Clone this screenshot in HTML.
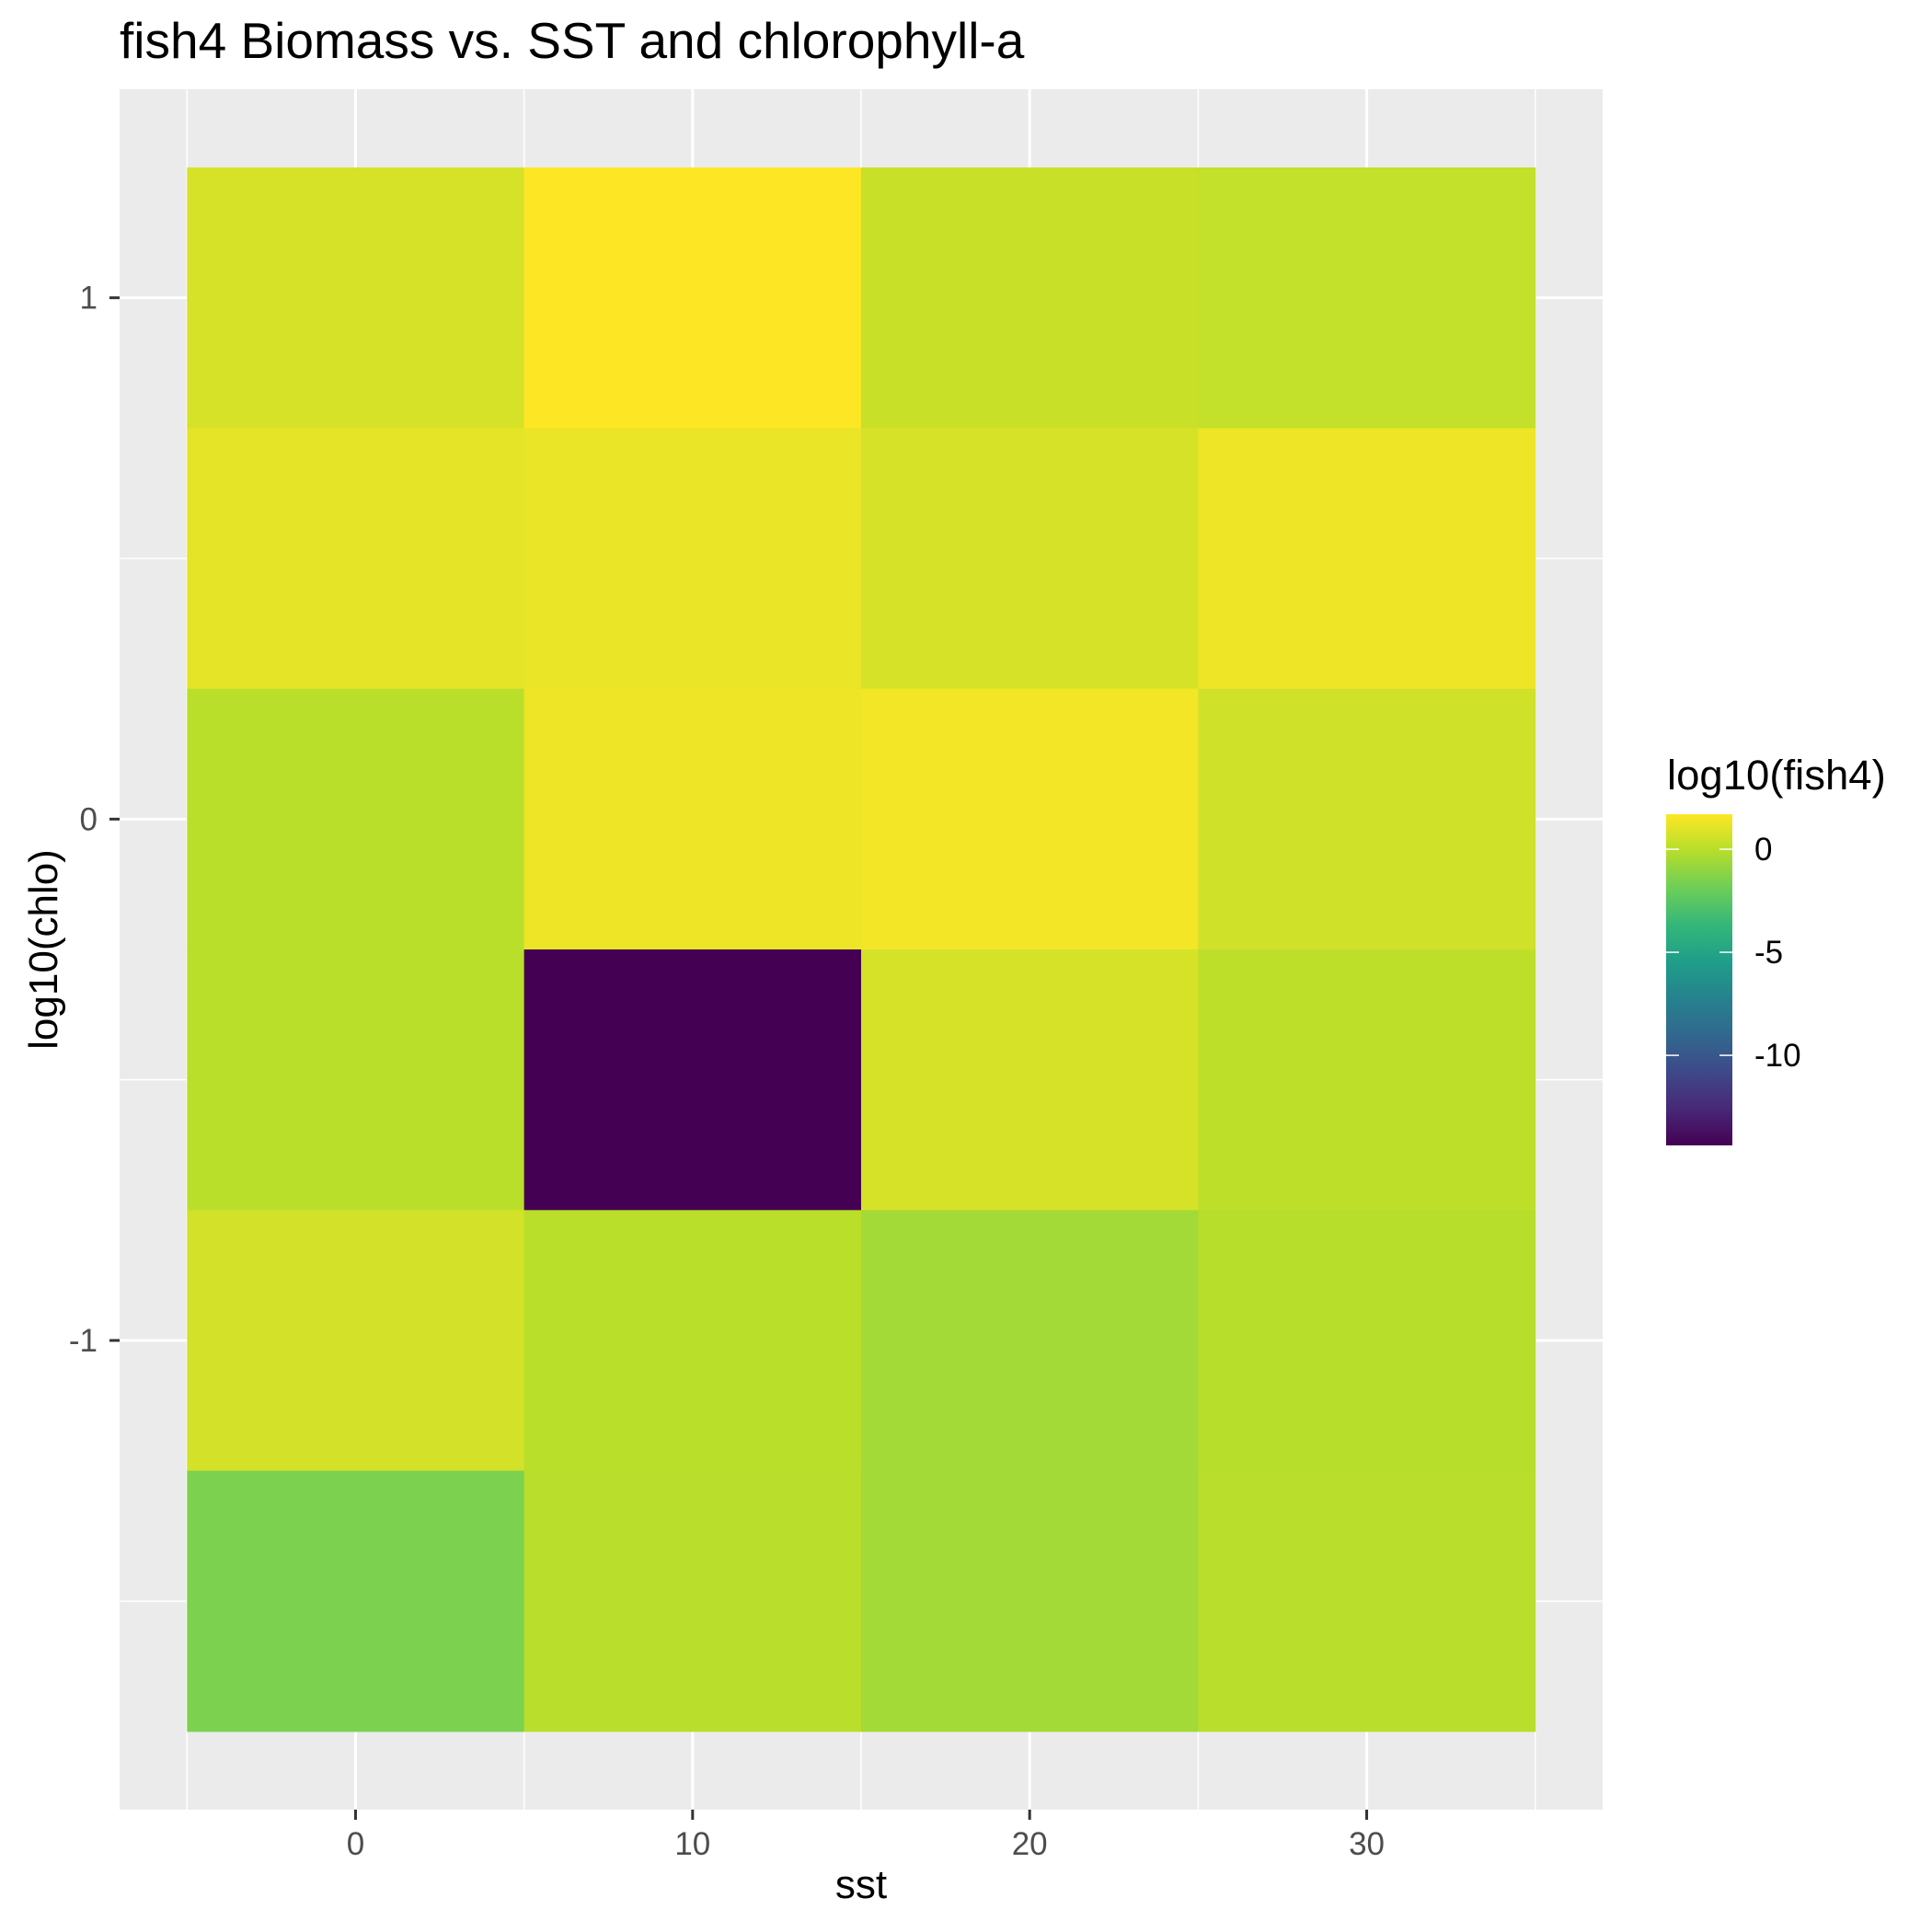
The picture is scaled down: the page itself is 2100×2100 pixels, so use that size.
<!DOCTYPE html>
<html><head><meta charset="utf-8"><style>
html,body{margin:0;padding:0;background:#fff;}
svg{display:block;font-family:"Liberation Sans",Arial,sans-serif;}
</style></head><body>
<svg id="chart" width="2100" height="2100" viewBox="0 0 2100 2100" xmlns="http://www.w3.org/2000/svg">
<defs><linearGradient id="vgrad" x1="0" y1="1" x2="0" y2="0"></linearGradient></defs>
<text x="130" y="63" font-size="55" fill="#000">fish4 Biomass vs. SST and chlorophyll-a</text>
<rect x="130" y="97" width="1612" height="1870" fill="#ebebeb"/>
<g id="grid"></g>
<g id="tiles"></g>
<g id="axes"></g>
<text x="936" y="2063" font-size="44" text-anchor="middle" fill="#000">sst</text>
<text transform="translate(62,1032) rotate(-90)" font-size="44" text-anchor="middle" fill="#000">log10(chlo)</text>
<g id="legend">
<text x="1812" y="858" font-size="45.5" fill="#000">log10(fish4)</text>
</g>
</svg>
<script>
const sstValues = [0, 10, 20, 30];
const chloValues = [1.0, 0.5, 0.0, -0.5, -1.0, -1.5];
// fish values per chlo row (top to bottom), columns sst 0,10,20,30
const fishRow1 = [0.74, 1.70, 0.41, 0.25];
const fishRow2 = [1.10, 1.22, 0.74, 1.30];
const fishRow3 = [0.02, 1.30, 1.46, 0.58];
const fishRow4 = [0.02, -14.37, 0.74, 0.12];
const fishRow5 = [0.66, 0.05, -0.55, -0.07];
const fishRow6 = [-1.51, 0.01, -0.55, 0.01];
const xTicks = [0, 10, 20, 30];
const yTicks = [-1, 0, 1];
const legendTicks = [0, -5, -10];
const fishMin = -14.37, fishMax = 1.70;

const NS = "http://www.w3.org/2000/svg";
const X0 = 130, X1 = 1742, XMIN = -7, XMAX = 37;
const Y0 = 97, Y1 = 1967, YMIN = -1.9, YMAX = 1.4;
const sx = v => X0 + (v - XMIN) / (XMAX - XMIN) * (X1 - X0);
const sy = v => Y1 - (v - YMIN) / (YMAX - YMIN) * (Y1 - Y0);
const vir = ["#440154","#482878","#3e4989","#31688e","#26828e","#1f9e89","#35b779","#6ece58","#b5de2b","#fde725"];
function hex(h){return [1,3,5].map(i=>parseInt(h.substr(i,2),16));}
function viridis(t){
  t=Math.max(0,Math.min(1,t));const p=t*(vir.length-1);const i=Math.min(Math.floor(p),vir.length-2);const f=p-i;
  const a=hex(vir[i]),b=hex(vir[i+1]);
  return "rgb("+a.map((c,k)=>Math.round(c+(b[k]-c)*f)).join(",")+")";
}
function mk(tag, attrs, parent){const e=document.createElementNS(NS,tag);for(const k in attrs)e.setAttribute(k,attrs[k]);parent.appendChild(e);return e;}

const grid=document.getElementById("grid");
[-5,5,15,25,35].forEach(v=>{const l=mk("line",{x1:sx(v),x2:sx(v),y1:Y0,y2:Y1,stroke:"#fff","stroke-width":1.5},grid);

});
[-1.5,-0.5,0.5].forEach(v=>{const l=mk("line",{x1:X0,x2:X1,y1:sy(v),y2:sy(v),stroke:"#fff","stroke-width":1.5},grid);

});
xTicks.forEach(v=>{const l=mk("line",{x1:sx(v),x2:sx(v),y1:Y0,y2:Y1,stroke:"#fff","stroke-width":3},grid);

});
yTicks.forEach(v=>{const l=mk("line",{x1:X0,x2:X1,y1:sy(v),y2:sy(v),stroke:"#fff","stroke-width":3},grid);

});

const rows=[fishRow1,fishRow2,fishRow3,fishRow4,fishRow5,fishRow6];
const tiles=document.getElementById("tiles");
rows.forEach((row,ri)=>{row.forEach((val,ci)=>{
  const cx=sstValues[ci], cy=chloValues[ri];
  const x=sx(cx-5), w=sx(cx+5)-x, y=sy(cy+0.25), h=sy(cy-0.25)-y;
  const r=mk("rect",{x:x,y:y,width:w+0.5,height:h+0.5,fill:viridis((val-fishMin)/(fishMax-fishMin))},tiles);
  
  
});});

const axes=document.getElementById("axes");
xTicks.forEach(v=>{
  const t=mk("line",{x1:sx(v),x2:sx(v),y1:Y1,y2:Y1+11,stroke:"#333","stroke-width":3},axes);
  
  
  const s=mk("text",{x:sx(v),y:2016,"font-size":35,"text-anchor":"middle",fill:"#4d4d4d"},axes);s.textContent=v;
  
  
});
yTicks.forEach(v=>{
  const t=mk("line",{x1:X0-11,x2:X0,y1:sy(v),y2:sy(v),stroke:"#333","stroke-width":3},axes);
  
  
  const s=mk("text",{x:106,y:sy(v)+12,"font-size":35,"text-anchor":"end",fill:"#4d4d4d"},axes);s.textContent=v;
  
  
});

const grad=document.getElementById("vgrad");
vir.forEach((c,i)=>{mk("stop",{offset:(i/(vir.length-1)),"stop-color":c},grad);});
const legend=document.getElementById("legend");
const LB0=885, LB1=1245, LX=1811, LW=72;
const ly=v=>LB1-(v-fishMin)/(fishMax-fishMin)*(LB1-LB0);
const bar=mk("rect",{x:LX,y:LB0,width:LW,height:LB1-LB0,fill:"url(#vgrad)"},legend);


legendTicks.forEach(v=>{
  const a=mk("line",{x1:LX,x2:LX+14,y1:ly(v),y2:ly(v),stroke:"#fff","stroke-width":1.5},legend);
  
  
  const b=mk("line",{x1:LX+LW-14,x2:LX+LW,y1:ly(v),y2:ly(v),stroke:"#fff","stroke-width":1.5},legend);
  
  
  const s=mk("text",{x:1907,y:ly(v)+12,"font-size":35,fill:"#000"},legend);s.textContent=v;
  
  
});
</script>
</body></html>
